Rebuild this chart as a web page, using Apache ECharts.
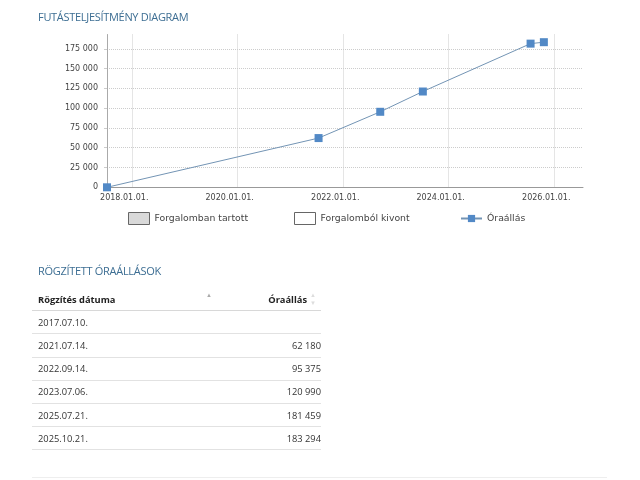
<!DOCTYPE html>
<html>
<head>
<meta charset="utf-8">
<script src="https://cdn.jsdelivr.net/npm/echarts@6/dist/echarts.min.js"></script>
<style>
    body { margin: 0; background: #fff; font-family: "Open Sans", sans-serif; }
    #chart { position: absolute; left: 0; top: 0; width: 640px; height: 480px; }
    .section-title {
        position: absolute; left: 38px; margin: 0;
        font-size: 11px; font-weight: normal; letter-spacing: -0.3px;
        color: #3d6e93; line-height: 14px;
    }
    #records {
        position: absolute; left: 32px; top: 288px; width: 289px;
        border-collapse: collapse; font-size: 9.3px; color: #333;
    }
    #records th, #records td {
        height: 22.2px; padding: 0 0 0 6px; border-bottom: 1px solid #e2e2e2;
        text-align: left; white-space: nowrap;
    }
    #records th { font-weight: bold; color: #222; position: relative; border-bottom-color: #d8d8d8; }
    #records th:first-child { width: 177px; }
    #records .num { text-align: right; padding: 0; }
    #records th.num { padding-right: 14px; }
    .sort { position: absolute; top: 3px; font-size: 6px; color: #aaa; }
    .sort.faint { color: #ddd; }
    #bottom-line { position: absolute; left: 32px; top: 477px; width: 575px; border-top: 1px solid #eee; }
</style>
</head>
<body>
<div id="chart"></div>
<h3 class="section-title" style="top:10px">FUTÁSTELJESÍTMÉNY DIAGRAM</h3>
<h3 class="section-title" style="top:264px">RÖGZÍTETT ÓRAÁLLÁSOK</h3>
<table id="records"></table>
<div id="bottom-line"></div>
<script>
// rögzített óraállások
const recordDates = ['2017.07.10.', '2021.07.14.', '2022.09.14.', '2023.07.06.', '2025.07.21.', '2025.10.21.'];
const recordValues = [null, 62180, 95375, 120990, 181459, 183294];

// tengelyek
const xTickDates = ['2018.01.01.', '2020.01.01.', '2022.01.01.', '2024.01.01.', '2026.01.01.'];
const xMaxDate = '2026.07.19.';
const yTickValues = [0, 25000, 50000, 75000, 100000, 125000, 150000, 175000];
const yMax = 193000;

const legendNames = ['Forgalomban tartott', 'Forgalomból kivont', 'Óraállás'];
const tableHeaders = ['Rögzítés dátuma', 'Óraállás'];

function toTime(s) {
    const p = s.split('.');
    return new Date(+p[0], +p[1] - 1, +p[2]).getTime();
}
function pad(n) { return (n < 10 ? '0' : '') + n; }
function fmtDate(v) {
    const d = new Date(v);
    return d.getFullYear() + '.' + pad(d.getMonth() + 1) + '.' + pad(d.getDate()) + '.';
}
function fmtNum(v) {
    return String(v).replace(/\B(?=(\d{3})+(?!\d))/g, ' ');
}

document.addEventListener('DOMContentLoaded', function() {
    initTable();
    initChart();
});

function initChart() {
    const chart = echarts.init(document.getElementById('chart'));
    const xTicks = xTickDates.map(toTime);
    const labelFont = { fontFamily: 'DejaVu Sans', fontSize: 8, color: '#444' };
    const legendBase = {
        padding: 0, itemWidth: 21, itemGap: 0,
        textStyle: { fontFamily: 'DejaVu Sans', fontSize: 9.3, color: '#444' },
        selectedMode: false
    };
    const option = {
        animation: false,
        grid: { left: 107, right: 57, top: 34.5, bottom: 292.7, containLabel: false },
        legend: [
            Object.assign({ left: 128, top: 212, itemHeight: 12, data: [{ name: legendNames[0], icon: 'rect' }],
                itemStyle: { borderWidth: 1 } }, legendBase),
            Object.assign({ left: 294, top: 212, itemHeight: 12, data: [{ name: legendNames[1], icon: 'rect' }],
                itemStyle: { borderWidth: 1 } }, legendBase),
            Object.assign({ left: 460, top: 214, itemHeight: 9, data: [{ name: legendNames[2] }] }, legendBase)
        ],
        xAxis: {
            type: 'value',
            min: toTime(recordDates[0]),
            max: toTime(xMaxDate),
            axisLine: { lineStyle: { color: '#999' } },
            axisTick: { show: false, customValues: xTicks },
            axisLabel: Object.assign({ customValues: xTicks, formatter: fmtDate, margin: 7,
                padding: [0, 16, 0, 0] }, labelFont),
            splitLine: { show: true, lineStyle: { color: '#ccc', type: 'dotted' } }
        },
        yAxis: {
            type: 'value',
            min: 0,
            max: yMax,
            axisLine: { show: true, lineStyle: { color: '#aaa' } },
            axisTick: { show: true, length: 3, customValues: yTickValues, lineStyle: { color: '#ccc' } },
            axisLabel: Object.assign({ customValues: yTickValues, formatter: fmtNum, margin: 9 }, labelFont),
            splitLine: { show: true, lineStyle: { color: '#ccc', type: 'dotted' } }
        },
        series: [
            {
                name: legendNames[0], type: 'bar', data: [],
                itemStyle: { color: '#d9d9d9', borderColor: '#666', borderWidth: 1 }
            },
            {
                name: legendNames[1], type: 'bar', data: [],
                itemStyle: { color: '#fff', borderColor: '#666', borderWidth: 1 }
            },
            {
                name: legendNames[2],
                type: 'line',
                data: recordDates.map((d, i) => [toTime(d), recordValues[i] || 0]),
                symbol: 'rect',
                symbolSize: 8,
                showAllSymbol: true,
                lineStyle: { color: '#7394b4', width: 1 },
                itemStyle: { color: '#5289c6' }
            }
        ]
    };
    chart.setOption(option);
}

function initTable() {
    const table = document.getElementById('records');
    let html = '<tr><th>' + tableHeaders[0] + '<span class="sort" style="right:3px">&#9650;</span></th>' +
        '<th class="num">' + tableHeaders[1] + '<span class="sort faint" style="right:5px">&#9650;<br>&#9660;</span></th></tr>';
    recordDates.forEach(function(d, i) {
        const v = recordValues[i];
        html += '<tr><td>' + d + '</td><td class="num">' + (v == null ? '' : fmtNum(v)) + '</td></tr>';
    });
    table.innerHTML = html;
}
</script>
</body>
</html>
